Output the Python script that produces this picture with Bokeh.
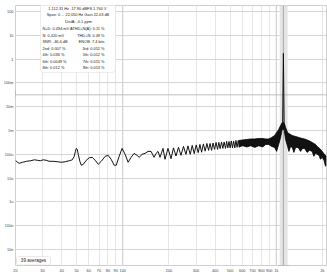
from bokeh.plotting import figure
from bokeh.models import FixedTicker, Label, BoxAnnotation, Span, Range1d
from bokeh.embed import file_html
from bokeh.resources import INLINE

# ---------------- data ----------------
freq_main = [20, 20.6, 21.2, 22.2, 23.6, 25.1, 26.6, 27.8, 29.1, 30.3, 31.7, 33.1, 35.0, 37.5,
             39.8, 42.2, 44.8, 46.9, 48.3, 49.1, 49.8, 50.5, 51.3, 52.5, 53.7, 55.3, 57.8,
             60.5, 63.2, 66.1, 69.2, 72.4, 76.8, 80.3, 84.0, 87.9, 90.6, 94.7, 99.0, 103.6,
             108.3, 113.3, 118.5, 123.9, 127.7, 133.6, 139.7, 146.1, 152.8, 159.8, 164.7,
             169.7, 174.8, 182.8, 188.4, 197.0, 206.1, 213.9, 222.1, 230.5, 239.3, 248.5,
             257.9, 265.8, 275.0, 283.4, 292.0, 300.9, 310.0, 318.0, 326.2, 335.0, 344.2,
             353.1, 362.2, 370.4, 378.8, 387.3, 396.1, 405.1, 414.3, 422.5, 430.8, 439.9,
             448.5, 457.3, 467.0, 474.7, 483.3, 492.1, 500.3, 509.3, 518.5, 527.1, 536.6,
             546.3, 555.3, 565.4, 575.7]
volt_main = [5.62e-5, 4.64e-5, 4.22e-5, 4.64e-5, 5.11e-5, 5.4e-5, 5.9e-5, 5.62e-5, 5.4e-5,
             5.9e-5, 5.62e-5, 5.11e-5, 5.11e-5, 4.9e-5, 4.64e-5, 4.9e-5, 5.4e-5, 5.9e-5,
             8.25e-5, 1.33e-4, 1.78e-4, 1.62e-4, 1.0e-4, 5.11e-5, 3.48e-5, 3.83e-5, 5.62e-5,
             7.2e-5, 7.5e-5, 5.62e-5, 3.83e-5, 5.11e-5, 8.25e-5, 9.09e-5, 6.19e-5, 3.48e-5,
             3.48e-5, 8.25e-5, 1.78e-4, 1.0e-4, 4.64e-5, 7.5e-5, 1.10e-4, 9.09e-5, 7.5e-5,
             1.0e-4, 1.10e-4, 1.33e-4, 1.33e-4, 7.5e-5, 1.10e-4, 1.33e-4, 7.5e-5, 1.78e-4,
             6.19e-5, 1.78e-4, 6.6e-5, 1.87e-4, 8.5e-5, 1.96e-4, 9.09e-5, 2.15e-4, 1.0e-4,
             2.26e-4, 1.0e-4, 2.37e-4, 1.07e-4, 2.49e-4, 1.18e-4, 2.61e-4, 1.23e-4, 2.74e-4,
             1.36e-4, 2.87e-4, 1.47e-4, 2.87e-4, 1.47e-4, 3.0e-4, 1.62e-4, 3.16e-4, 1.62e-4,
             3.16e-4, 1.73e-4, 3.31e-4, 1.78e-4, 3.31e-4, 1.78e-4, 3.48e-4, 1.87e-4, 3.48e-4,
             1.87e-4, 3.65e-4, 1.87e-4, 3.65e-4, 1.87e-4, 3.83e-4, 1.98e-4, 3.83e-4, 1.98e-4]

band_freq = [569.7, 604.5, 641.8, 681.5, 723.5, 768.1, 815.5, 852.9, 892.0, 932.9, 975.6,
             1005, 1036, 1067, 1092, 1125, 1150, 1185, 1209, 1239, 1271, 1302, 1336, 1370,
             1403, 1439, 1483, 1528, 1591, 1647, 1715, 1756, 1801, 1847, 1898, 1941, 1991,
             2045, 2092, 2124]
band_upper = [3.83e-4, 4.02e-4, 4.22e-4, 4.42e-4, 4.42e-4, 4.64e-4, 4.64e-4, 4.42e-4, 4.42e-4,
              5.11e-4, 6.19e-4, 8.25e-4, 1.10e-3, 1.62e-3, 2.15e-3, 2.15e-3, 1.33e-3, 8.25e-4,
              7.50e-4, 6.81e-4, 6.19e-4, 5.90e-4, 5.62e-4, 5.36e-4, 5.11e-4, 4.87e-4, 4.64e-4,
              4.42e-4, 4.02e-4, 3.65e-4, 3.16e-4, 2.87e-4, 2.61e-4, 2.15e-4, 1.87e-4, 1.62e-4,
              1.33e-4, 1.05e-4, 9.09e-5, 8.25e-5]
band_lower = [2.05e-4, 2.3e-4, 2.05e-4, 2.3e-4, 1.96e-4, 2.3e-4, 2.05e-4, 2.61e-4, 2.61e-4,
              2.15e-4, 1.96e-4, 1.33e-4, 2.61e-4, 5.11e-4, 1.10e-3, 1.10e-3, 4.22e-4, 2.15e-4,
              1.33e-4, 2.15e-4, 1.96e-4, 1.21e-4, 1.96e-4, 1.96e-4, 1.78e-4, 1.33e-4, 1.78e-4,
              1.78e-4, 1.21e-4, 1.47e-4, 1.33e-4, 8.25e-5, 1.10e-4, 1.00e-4, 9.09e-5, 6.19e-5,
              7.5e-5, 5.62e-5, 3.16e-5, 3.83e-5]

peak_freq = [1100.0, 1112.31, 1125.0]
peak_volt = [2.15e-3, 1.760, 2.15e-3]

x_ticks = [20, 30, 40, 50, 60, 70, 80, 90, 100, 200, 300, 400, 500, 600, 700, 800, 900, 1000, 2000]
x_tick_labels = ["20", "30", "40", "50", "60", "70", "80", "90", "100", "200", "300", "400",
                 "500", "600", "700", "800", "900", "1k", "2k"]
y_ticks = [1e-8, 1e-7, 1e-6, 1e-5, 1e-4, 1e-3, 1e-2, 1e-1, 1, 10, 100]
y_tick_labels = ["10n", "100n", "1u", "10u", "100u", "1m", "10m", "100m", "1", "10", "100"]

cursor_freq = 1112.31
cursor_band = [1052, 1185]
cursor_level = 0.0316
cursor_freq_label = "1.11k"
cursor_level_label = "8.47m"
y_unit = "V"
averages_text = "39 averages"
info_header = ["1,112.31 Hz  -17.90 dBFS  1.760 V",
               "Span: 0 ... 22,050 Hz  Gain 22.03 dB",
               "DistA: -0.1 ppm"]
info_left = ["N+D: 0.494 mV A", "N: 0.420 mV", "SNR: -46.4 dB", "2nd: 0.007 %",
             "4th: 0.036 %", "6th: 0.0049 %", "8th: 0.012 %"]
info_right = ["THD+N(A): 0.11 %", "THD+N: 0.49 %", "ENOB: 7.4 bits", "3rd: 0.052 %",
              "5th: 0.012 %", "7th: 0.015 %", "9th: 0.013 %"]

# ---------------- figure ----------------
FONT = "Liberation Sans"
p = figure(width=327, height=275, x_axis_type="log", y_axis_type="log",
           x_range=Range1d(20, 2124), y_range=Range1d(2.15e-9, 178),
           output_backend="svg", toolbar_location=None,
           min_border_left=14, min_border_right=1, min_border_top=5, min_border_bottom=8)
p.outline_line_color = "#cfcfcf"
p.background_fill_color = "white"
p.border_fill_color = "white"

xt = FixedTicker(ticks=x_ticks, minor_ticks=[])
yt = FixedTicker(ticks=y_ticks, minor_ticks=[])
p.xaxis.ticker = xt
p.yaxis.ticker = yt
p.xaxis.major_label_overrides = {t: s for t, s in zip(x_ticks, x_tick_labels)}
p.yaxis.major_label_overrides = {t: s for t, s in zip(y_ticks, y_tick_labels)}
for ax in (p.xaxis[0], p.yaxis[0]):
    ax.axis_line_color = None
    ax.major_tick_line_color = None
    ax.minor_tick_line_color = None
    ax.major_tick_out = 0
    ax.major_tick_in = 0
    ax.minor_tick_out = 0
    ax.major_label_text_font = FONT
    ax.major_label_text_font_size = "3.9px"
    ax.major_label_text_color = "#444444"
    ax.major_label_standoff = 2
p.xgrid.grid_line_color = "#e6e6e6"
p.ygrid.grid_line_color = "#d6d6d6"

for f in (100, 1000):
    p.add_layout(Span(location=f, dimension="height", line_color="#cdcdcd", line_width=1, level="underlay"))

# cursors
p.add_layout(BoxAnnotation(left=cursor_band[0], right=cursor_band[1], fill_color="#e4e4e4",
                           fill_alpha=1, line_color=None, level="underlay"))
p.add_layout(Span(location=cursor_freq, dimension="height", line_color="#a8a8a8", line_width=1, level="underlay"))
p.add_layout(Span(location=cursor_level, dimension="width", line_color="#bdbdbd", line_width=1, level="underlay"))

# data
p.varea(x=band_freq, y1=band_lower, y2=band_upper, fill_color="#111111", fill_alpha=1)
p.line(band_freq, band_upper, line_color="black", line_width=0.8)
p.line(band_freq, band_lower, line_color="black", line_width=0.8)
p.line(freq_main, volt_main, line_color="#111111", line_width=1)
p.line(peak_freq, peak_volt, line_color="#111111", line_width=1)

# frame coords: frame left = 14, bottom = 267
def sx(X):
    return X - 14

def sy(Y):
    return 267 - Y

TXT = "#222222"
FS = "3.9px"
# info box
p.add_layout(BoxAnnotation(left=sx(39), right=sx(114), top=sy(5), bottom=sy(74),
                           left_units="screen", right_units="screen", top_units="screen",
                           bottom_units="screen", fill_color="white", fill_alpha=1,
                           line_color="#c4c4c4", line_width=1, border_radius=3, level="overlay"))
ys_head = [9.5, 16, 22.5]
for t, Y in zip(info_header, ys_head):
    p.add_layout(Label(x=sx(77), y=sy(Y), x_units="screen", y_units="screen", text=t,
                       text_font=FONT, text_font_size=FS, text_color=TXT,
                       text_align="center", text_baseline="middle", level="overlay"))
ys_rows = [30, 36.5, 43, 49.5, 56, 62.5, 69]
for tl, tr, Y in zip(info_left, info_right, ys_rows):
    p.add_layout(Label(x=sx(41), y=sy(Y), x_units="screen", y_units="screen", text=tl,
                       text_font=FONT, text_font_size=FS, text_color=TXT,
                       text_align="left", text_baseline="middle", level="overlay"))
    p.add_layout(Label(x=sx(103), y=sy(Y), x_units="screen", y_units="screen", text=tr,
                       text_font=FONT, text_font_size=FS, text_color=TXT,
                       text_align="right", text_baseline="middle", level="overlay"))

# averages box
p.add_layout(BoxAnnotation(left=sx(15), right=sx(49), top=sy(258), bottom=sy(266.5),
                           left_units="screen", right_units="screen", top_units="screen",
                           bottom_units="screen", fill_color="white", fill_alpha=1,
                           line_color="#b8b8b8", line_width=1, border_radius=2, level="overlay"))
p.add_layout(Label(x=sx(32), y=sy(262.2), x_units="screen", y_units="screen", text=averages_text,
                   text_font=FONT, text_font_size="4.6px", text_color=TXT,
                   text_align="center", text_baseline="middle", level="overlay"))

# unit label and cursor labels on the axes
p.add_layout(Label(x=sx(12), y=sy(2.5), x_units="screen", y_units="screen", text=y_unit,
                   text_font=FONT, text_font_size="3.9px", text_color="#444444",
                   text_align="center", text_baseline="middle", level="overlay"))
p.add_layout(Label(x=sx(7), y=sy(95), x_units="screen", y_units="screen", text=cursor_level_label,
                   text_font=FONT, text_font_size="3.9px", text_color="#2a52be",
                   text_align="center", text_baseline="middle", background_fill_color="#eef2ff",
                   border_line_color="#5b7be0", padding=1, level="overlay"))
p.add_layout(Label(x=sx(282), y=sy(271), x_units="screen", y_units="screen", text=cursor_freq_label,
                   text_font=FONT, text_font_size="3.9px", text_color="#2a52be",
                   text_align="center", text_baseline="middle", background_fill_color="#eef2ff",
                   border_line_color="#5b7be0", padding=1, level="overlay"))

open("out.html", "w").write(file_html(p, INLINE))
